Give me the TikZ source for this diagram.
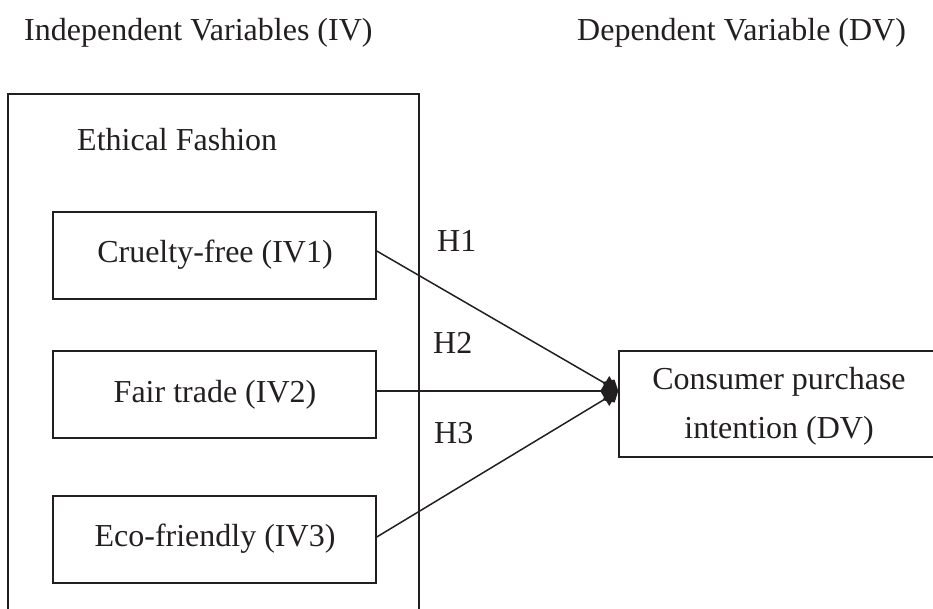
\documentclass[tikz,border=0pt]{standalone}
\usepackage{fontspec}
\setmainfont{Liberation Serif}
\usetikzlibrary{arrows.meta}
\definecolor{ink}{HTML}{231F20}
\tikzset{
  txt/.style={inner sep=0pt, text=ink, font=\fontsize{32}{38}\selectfont},
  ivbox/.style={draw=ink, line width=1.5pt, minimum width=323pt, minimum height=87pt, inner sep=0pt},
  outerbox/.style={draw=ink, line width=1.8pt, minimum width=411pt, minimum height=526pt, inner sep=0pt},
  dvbox/.style={draw=ink, line width=1.5pt, minimum width=326pt, minimum height=106pt, inner sep=0pt},
  hyp/.style={draw=ink, line width=1.5pt, -{Diamond[length=18pt, width=16pt]}},
  hypmid/.style={draw=ink, line width=1.5pt, -{Diamond[length=18pt, width=30pt]}}
}
\begin{document}
\begin{tikzpicture}[x=1pt, y=-1pt]
\useasboundingbox (0,0) rectangle (933,609);
\clip (0,0) rectangle (933,609);
% headers
\node[txt, anchor=base west] (hiv) at (24,41) {Independent Variables (IV)};
\node[txt, anchor=base west] (hdv) at (577,41) {Dependent Variable (DV)};
% outer box
\node[outerbox] (ef) at (213.5,357) {};
\node[txt, anchor=base west] (eft) at (77,151) {Ethical Fashion};
% IV boxes
\node[ivbox] (cf) at (214.5,255.5) {};
\node[txt, anchor=base] (cft) at (215,262) {Cruelty-free (IV1)};
\node[ivbox] (ft) at (214.5,394.5) {};
\node[txt, anchor=base] (ftt) at (215,402) {Fair trade (IV2)};
\node[ivbox] (eco) at (214.5,539.5) {};
\node[txt, anchor=base] (ecot) at (215,546) {Eco-friendly (IV3)};
% DV box
\node[dvbox] (dv) at (782,404) {};
\node[txt, anchor=base] (dvt1) at (779,389) {Consumer purchase};
\node[txt, anchor=base] (dvt2) at (779,438) {intention (DV)};
\coordinate (tip) at ([yshift=13pt]dv.west);
% hypotheses
\draw[hyp] ([yshift=4.5pt]cf.east) -- (tip);
\draw[hyp] ([yshift=2.5pt]eco.east) -- (tip);
\draw[hypmid] ([yshift=3.5pt]ft.east) -- (tip);
\node[txt, anchor=base west] (h1) at (437,252) {H1};
\node[txt, anchor=base west] (h2) at (433,353) {H2};
\node[txt, anchor=base west] (h3) at (434,443) {H3};
\end{tikzpicture}
\end{document}
